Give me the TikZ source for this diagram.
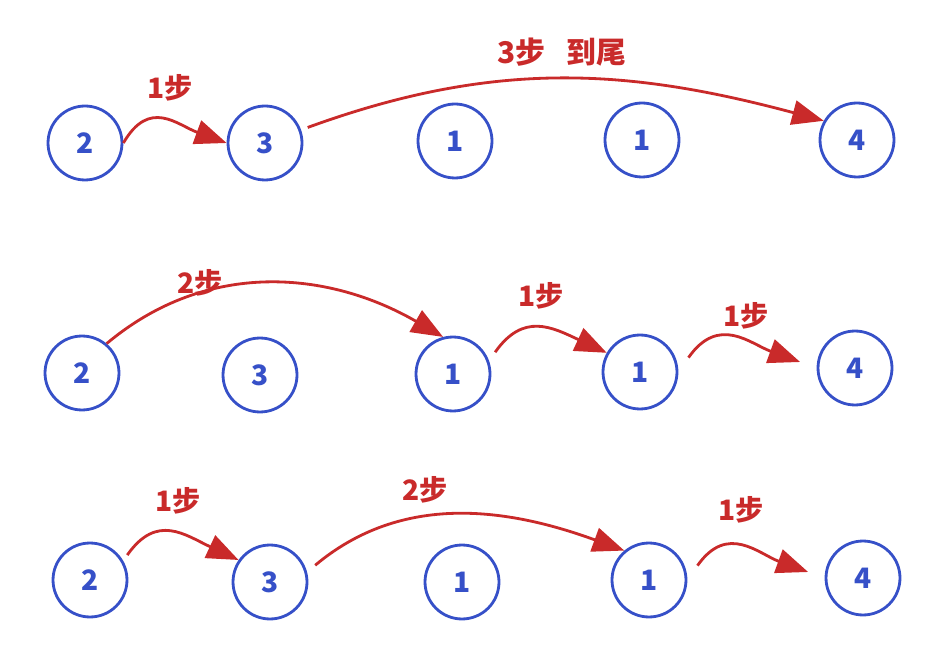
\documentclass[tikz,border=0pt]{standalone}
\usepackage{fontspec}
\newfontfamily\cjk{Noto Sans CJK SC}
\usetikzlibrary{arrows.meta}
\definecolor{ink}{HTML}{3650C8}
\definecolor{hop}{HTML}{C92A2A}
\tikzset{
  cell/.style={circle, draw=ink, line width=1.6pt, minimum size=1.48cm,
               inner sep=0pt, text=ink, font=\cjk\bfseries\fontsize{16}{16}\selectfont},
  jump/.style={-{Triangle[length=18pt, width=14pt]}, hop, line width=1.6pt},
  tag/.style={text=hop, font=\cjk\bfseries\fontsize{16}{16}\selectfont},
}

\begin{document}
\begin{tikzpicture}[x=0.02cm, y=-0.02cm]
    \useasboundingbox (0,0) rectangle (950,658);
    % row 1
    \node[cell] (r1a) at (85,143) {2};
    \node[cell] (r1b) at (265,143) {3};
    \node[cell] (r1c) at (455,141) {1};
    \node[cell] (r1d) at (642,140) {1};
    \node[cell] (r1e) at (857,140) {4};
    \node[tag] (t1a) at (170,88) {1步};
    \node[tag, font=\cjk\bfseries\fontsize{17}{17}\selectfont] (t1b) at (562,52) {3步\hspace{0.7em}到尾};
    \draw[jump] (r1a.east) to[out=60, in=160, looseness=1.3] (r1b.west);
    \draw[jump, shorten <=4pt] (r1b.20) to[out=20, in=165] (r1e.150);
    % row 2
    \node[cell] (r2a) at (82,373) {2};
    \node[cell] (r2b) at (260,375) {3};
    \node[cell] (r2c) at (453,374) {1};
    \node[cell] (r2d) at (640,372) {1};
    \node[cell] (r2e) at (855,368) {4};
    \node[tag] (t2a) at (200,283) {2步};
    \node[tag] (t2b) at (541,296) {1步};
    \node[tag] (t2c) at (746,316) {1步};
    \draw[jump] (r2a.50) to[out=40, in=150] (r2c.105);
    \draw[jump, shorten <=6pt] (r2c.20) to[out=55, in=155, looseness=1.3] (r2d.150);
    \draw[jump, shorten <=10pt, shorten >=10pt] (r2d.east) to[out=55, in=160, looseness=1.3] (r2e.west);
    % row 3
    \node[cell] (r3a) at (90,580) {2};
    \node[cell] (r3b) at (270,582) {3};
    \node[cell] (r3c) at (462,582) {1};
    \node[cell] (r3d) at (649,580) {1};
    \node[cell] (r3e) at (863,578) {4};
    \node[tag] (t3a) at (178,501) {1步};
    \node[tag] (t3b) at (425,490) {2步};
    \node[tag] (t3c) at (741,510) {1步};
    \draw[jump, shorten <=4pt] (r3a.30) to[out=55, in=155, looseness=1.3] (r3b.145);
    \draw[jump, shorten <=6pt] (r3b.15) to[out=40, in=160] (r3d.130);
    \draw[jump, shorten <=10pt, shorten >=10pt] (r3d.east) to[out=55, in=160, looseness=1.3] (r3e.west);
\end{tikzpicture}
\end{document}
